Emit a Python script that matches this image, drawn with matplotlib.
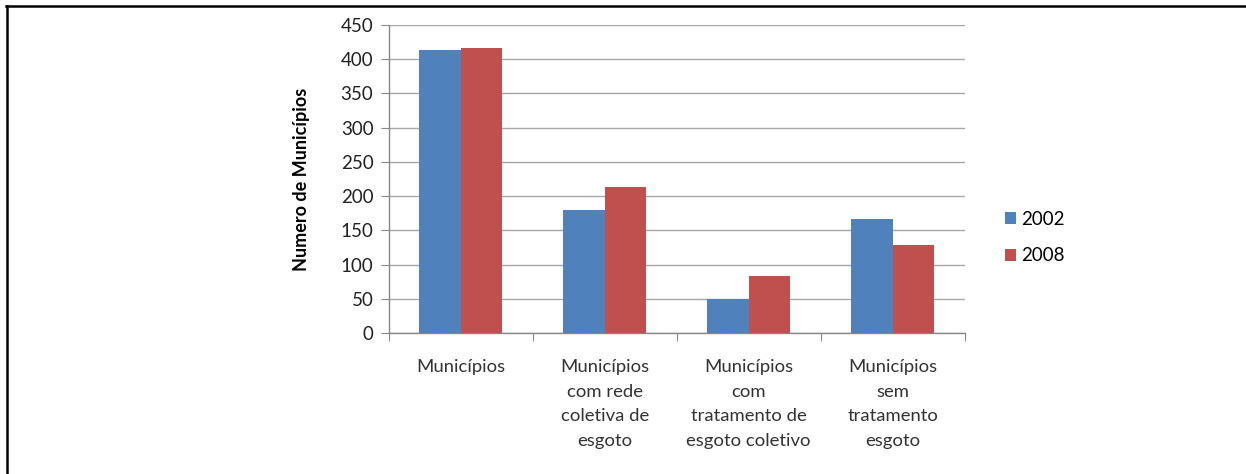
import matplotlib
matplotlib.use('Agg')
import matplotlib.pyplot as plt
import numpy as np
from matplotlib.lines import Line2D

categories = ['Municípios',
              'Municípios\ncom rede\ncoletiva de\nesgoto',
              'Municípios\ncom\ntratamento de\nesgoto coletivo',
              'Municípios\nsem\ntratamento\nesgoto']
v2002 = [414, 179, 50, 166]
v2008 = [417, 214, 84, 128]
years = ['2002', '2008']

plt.rcParams['font.family'] = ['Lato', 'DejaVu Sans']

fig = plt.figure(figsize=(12.46, 4.74), dpi=100)
ax = fig.add_axes([388.7/1246, 1-333/474, 576/1246, 308/474])

x = np.arange(len(categories))
w = 0.29
ax.bar(x - w/2, v2002, w, color='#4f81bd', label=years[0], zorder=3)
ax.bar(x + w/2, v2008, w, color='#c0504d', label=years[1], zorder=3)

ax.set_xlim(-0.5, 3.5)
ax.set_ylim(0, 450)
ax.set_yticks(np.arange(0, 451, 50))
ax.yaxis.grid(True, color='#a6a6a6', linewidth=1.0, zorder=0)
ax.set_axisbelow(True)

for s in ['top', 'right']:
    ax.spines[s].set_visible(False)
for s in ['left', 'bottom']:
    ax.spines[s].set_color('#888888')
    ax.spines[s].set_linewidth(1.0)

ax.set_xticks(np.arange(-0.5, 3.6, 1.0))
ax.set_xticklabels([])
ax.set_xticks(x, minor=True)
labels = ax.set_xticklabels(categories, minor=True, fontsize=13.3, color='#333333')
for t in labels:
    t.set_linespacing(1.65)
ax.tick_params(axis='x', which='major', length=6, color='#888888')
ax.tick_params(axis='x', which='minor', length=0, pad=19)
ax.tick_params(axis='y', length=6, color='#888888', labelsize=13.5, labelcolor='#222222', pad=5)

ax.set_ylabel('Numero de Municípios', fontsize=13, fontweight='bold', labelpad=22)

leg = ax.legend(loc='center left', bbox_to_anchor=(1.04, 0.31), frameon=False,
                fontsize=13.5, handlelength=0.6, handleheight=0.6, handletextpad=0.3,
                labelspacing=1.05)

# moldura preta
fig.add_artist(Line2D([6/1246, 1], [1-5.5/474, 1-5.5/474], color='black', linewidth=1.8))
fig.add_artist(Line2D([7/1246, 7/1246], [0, 1-5.5/474], color='black', linewidth=1.8))

fig.savefig('out.png', dpi=100)
